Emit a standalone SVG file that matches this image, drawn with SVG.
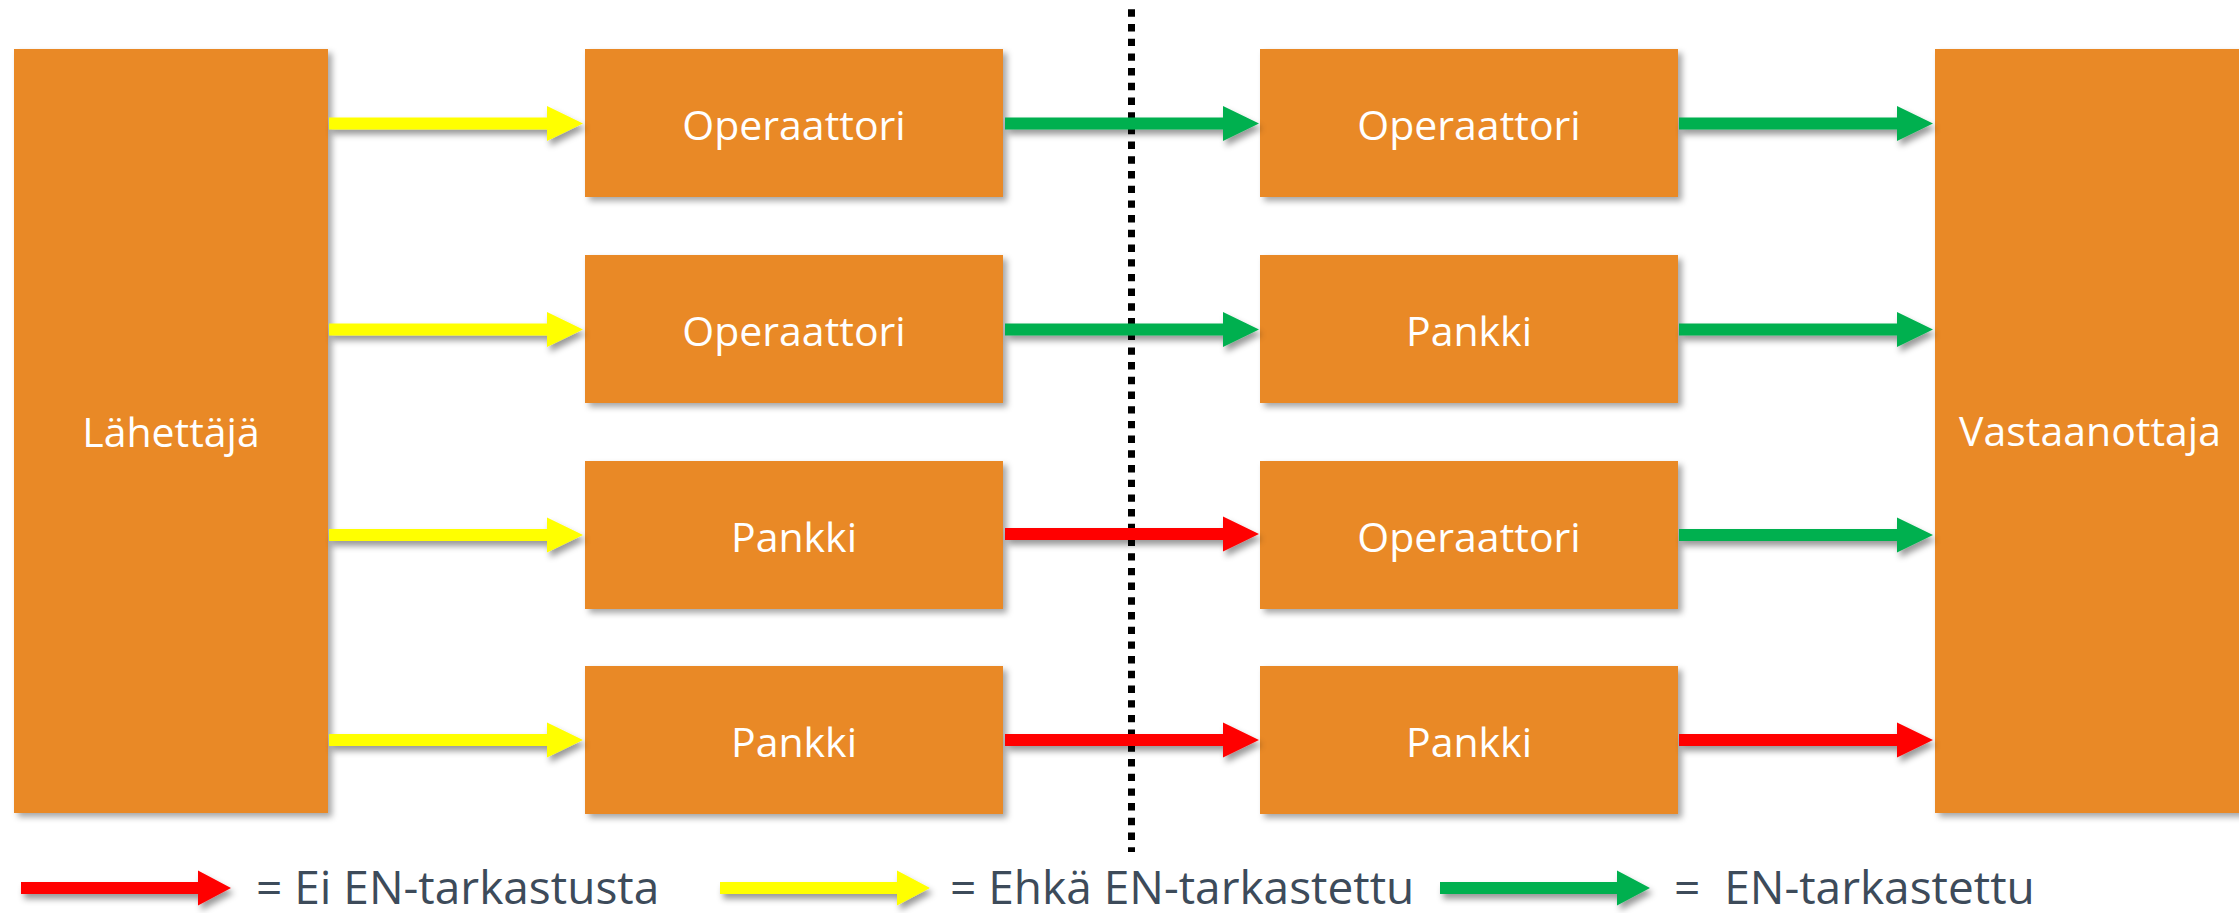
<svg xmlns="http://www.w3.org/2000/svg" xmlns:xlink="http://www.w3.org/1999/xlink" width="2239" height="913" viewBox="0 0 2239 913">
  <defs>
    <style>
      .box { fill: #E98927; filter: url(#shadow); }
      .lbl { font-family: "Open Sans", "Noto Sans", "DejaVu Sans", sans-serif; font-size: 41px; fill: #FFFFFF; text-anchor: middle; }
      .leg { font-family: "Open Sans", "Noto Sans", "DejaVu Sans", sans-serif; font-size: 46px; fill: #3D4B5A; }
      .yel { fill: #FFFF00; }
      .grn { fill: #00B050; }
      .red { fill: #FF0000; }
      .arr { filter: url(#ashadow); }
    </style>
    <filter id="shadow" x="-10%" y="-10%" width="130%" height="130%">
      <feDropShadow dx="4" dy="4" stdDeviation="3" flood-color="#000000" flood-opacity="0.35"/>
    </filter>
    <filter id="ashadow" x="-10%" y="-50%" width="130%" height="250%">
      <feDropShadow dx="3" dy="5" stdDeviation="3" flood-color="#000000" flood-opacity="0.4"/>
    </filter>
    <path id="arrow" d="M0,-6 H218 V-17.5 L254,0 L218,17.5 V6 H0 Z"/>
    <path id="larrow" d="M0,-6 H177 V-17.5 L210,0 L177,17.5 V6 H0 Z"/>
  </defs>
  <rect width="2239" height="913" fill="#FFFFFF"/>

  <!-- divider -->
  <line x1="1131.5" y1="9.3" x2="1131.5" y2="852" stroke="#000000" stroke-width="7" stroke-dasharray="7.4 7.3"/>

  <!-- nodes -->
  <g id="lahettaja">
    <rect class="box" x="14" y="49" width="314" height="764"/>
    <text class="lbl" x="171" y="447">Lähettäjä</text>
  </g>
  <g id="c2r1">
    <rect class="box" x="585" y="49" width="418" height="148"/>
    <text class="lbl" x="794" y="140">Operaattori</text>
  </g>
  <g id="c2r2">
    <rect class="box" x="585" y="255" width="418" height="148"/>
    <text class="lbl" x="794" y="346">Operaattori</text>
  </g>
  <g id="c2r3">
    <rect class="box" x="585" y="461" width="418" height="148"/>
    <text class="lbl" x="794" y="552">Pankki</text>
  </g>
  <g id="c2r4">
    <rect class="box" x="585" y="666" width="418" height="148"/>
    <text class="lbl" x="794" y="757">Pankki</text>
  </g>
  <g id="c3r1">
    <rect class="box" x="1260" y="49" width="418" height="148"/>
    <text class="lbl" x="1469" y="140">Operaattori</text>
  </g>
  <g id="c3r2">
    <rect class="box" x="1260" y="255" width="418" height="148"/>
    <text class="lbl" x="1469" y="346">Pankki</text>
  </g>
  <g id="c3r3">
    <rect class="box" x="1260" y="461" width="418" height="148"/>
    <text class="lbl" x="1469" y="552">Operaattori</text>
  </g>
  <g id="c3r4">
    <rect class="box" x="1260" y="666" width="418" height="148"/>
    <text class="lbl" x="1469" y="757">Pankki</text>
  </g>
  <g id="vastaanottaja">
    <rect class="box" x="1935" y="49" width="330" height="764"/>
    <text class="lbl" x="2090" y="446">Vastaanottaja</text>
  </g>

  <!-- connectors -->
  <g id="connectors" class="arr">
    <use href="#arrow" xlink:href="#arrow" class="yel" x="329" y="123.5"/>
    <use href="#arrow" xlink:href="#arrow" class="yel" x="329" y="329.5"/>
    <use href="#arrow" xlink:href="#arrow" class="yel" x="329" y="535"/>
    <use href="#arrow" xlink:href="#arrow" class="yel" x="329" y="740"/>

    <use href="#arrow" xlink:href="#arrow" class="grn" x="1005" y="123.5"/>
    <use href="#arrow" xlink:href="#arrow" class="grn" x="1005" y="329.5"/>
    <use href="#arrow" xlink:href="#arrow" class="red" x="1005" y="534"/>
    <use href="#arrow" xlink:href="#arrow" class="red" x="1005" y="740"/>

    <use href="#arrow" xlink:href="#arrow" class="grn" x="1679" y="123.5"/>
    <use href="#arrow" xlink:href="#arrow" class="grn" x="1679" y="329.5"/>
    <use href="#arrow" xlink:href="#arrow" class="grn" x="1679" y="535"/>
    <use href="#arrow" xlink:href="#arrow" class="red" x="1679" y="740"/>
  </g>

  <!-- legend -->
  <g id="legend">
    <use href="#larrow" xlink:href="#larrow" class="red arr" x="21" y="888"/>
    <text class="leg" x="256" y="904">= Ei EN-tarkastusta</text>
    <use href="#larrow" xlink:href="#larrow" class="yel arr" x="720" y="888"/>
    <text class="leg" x="950" y="904">= Ehkä EN-tarkastettu</text>
    <use href="#larrow" xlink:href="#larrow" class="grn arr" x="1440" y="888"/>
    <text class="leg" x="1674" y="904" xml:space="preserve">=  EN-tarkastettu</text>
  </g>
</svg>
